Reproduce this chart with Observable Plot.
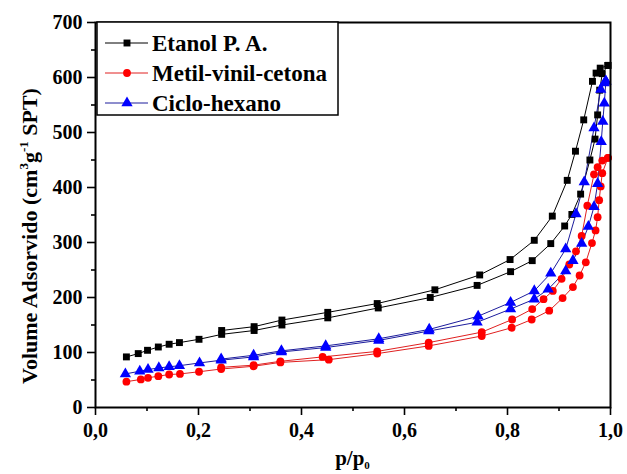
<!DOCTYPE html>
<html>
<head>
<meta charset="utf-8">
<script src="https://cdn.jsdelivr.net/npm/d3@7"></script>
<script src="https://cdn.jsdelivr.net/npm/@observablehq/plot@0.6"></script>
<style>
  html, body { margin: 0; padding: 0; background: white; }
  #chart { width: 627px; height: 474px; }
</style>
</head>
<body>
<div id="chart"></div>
<script>
// ---- data ----
const seriesNames = ["Etanol P. A.", "Metil-vinil-cetona", "Ciclo-hexano"];

const etanolAdsP = [0.060,0.083,0.101,0.122,0.143,0.163,0.201,0.245,0.308,0.362,0.451,0.549,0.650,0.741,0.806,0.848,0.884,0.911,0.925,0.942,0.960,0.970,0.975,0.979,0.984,0.995];
const etanolAdsV = [92,98,104,110,115,118,124,133,140,150,163,181,200,222,247,267,298,330,351,388,450,488,532,577,607,622];
const etanolDesP = [0.995,0.980,0.972,0.965,0.948,0.932,0.916,0.887,0.852,0.805,0.746,0.659,0.547,0.451,0.362,0.308,0.245];
const etanolDesV = [622,617,608,593,523,466,413,348,304,269,241,214,189,173,159,147,140];

const metilAdsP = [0.060,0.088,0.102,0.122,0.143,0.164,0.201,0.244,0.307,0.359,0.453,0.547,0.647,0.750,0.808,0.847,0.881,0.907,0.927,0.940,0.952,0.964,0.971,0.975,0.978,0.981,0.984,0.995];
const metilAdsV = [47,51,54,57,60,61,65,70,75,82,87,98,112,130,145,160,176,199,219,240,264,299,322,346,377,402,426,454];
const metilDesP = [0.995,0.984,0.975,0.968,0.955,0.944,0.933,0.920,0.905,0.888,0.870,0.848,0.809,0.750,0.647,0.547,0.441,0.359,0.307,0.244];
const metilDesV = [454,449,437,424,367,312,284,260,234,212,197,179,160,137,118,102,92,84,77,73];

const cicloAdsP = [0.058,0.086,0.102,0.123,0.143,0.163,0.202,0.244,0.307,0.361,0.447,0.550,0.647,0.741,0.806,0.852,0.879,0.913,0.927,0.944,0.957,0.968,0.975,0.982,0.985,0.988,0.991];
const cicloAdsV = [61,66,69,72,74,76,81,86,92,101,109,122,139,155,179,197,215,248,267,298,329,365,407,483,520,553,593];
const cicloDesP = [0.991,0.988,0.981,0.968,0.949,0.933,0.913,0.884,0.852,0.806,0.743,0.648,0.550,0.447,0.361,0.307,0.244];
const cicloDesV = [593,590,578,508,410,352,288,244,212,191,166,142,125,112,103,95,88];

const yTicks = [0,100,200,300,400,500,600,700];
const yMinor = [50,150,250,350,450,550,650];
const xTicks = [0,0.2,0.4,0.6,0.8,1.0];
const xMinor = [0.1,0.3,0.5,0.7,0.9];

// ---- styles ----
const lineColor = {"Etanol P. A.": "#000000", "Metil-vinil-cetona": "#e02020", "Ciclo-hexano": "#1c1c9c"};
const dotColor  = {"Etanol P. A.": "#000000", "Metil-vinil-cetona": "#ff0000", "Ciclo-hexano": "#0000ff"};
const symbolOf  = {"Etanol P. A.": "square", "Metil-vinil-cetona": "circle", "Ciclo-hexano": "triangle"};
const sizeOf    = {"Etanol P. A.": 3.9, "Metil-vinil-cetona": 3.9, "Ciclo-hexano": 4.2};

function rowsOf(name, branch, P, V) {
  return P.map((p, i) => ({name, branch, key: name + "|" + branch, p, v: V[i]}));
}
const rows = [
  ...rowsOf(seriesNames[0], "ads", etanolAdsP, etanolAdsV),
  ...rowsOf(seriesNames[0], "des", etanolDesP, etanolDesV),
  ...rowsOf(seriesNames[1], "ads", metilAdsP, metilAdsV),
  ...rowsOf(seriesNames[1], "des", metilDesP, metilDesV),
  ...rowsOf(seriesNames[2], "ads", cicloAdsP, cicloAdsV),
  ...rowsOf(seriesNames[2], "des", cicloDesP, cicloDesV)
];

const W = 627, H = 474;
const mL = 95, mR = 17, mT = 22, mB = 67;
const font = "'Liberation Serif', 'Times New Roman', serif";

const marks = [
  Plot.axisY({ticks: yTicks, tickSize: 8, tickPadding: 5, tickFormat: d => String(d), label: null, fontSize: 20, fontWeight: "bold", strokeWidth: 1.6}),
  Plot.axisY({ticks: yMinor, tickSize: 4, text: null, label: null, strokeWidth: 1.6}),
  Plot.axisX({ticks: xTicks, tickSize: 8, tickPadding: 7, tickFormat: d => d.toFixed(1).replace(".", ","), label: null, fontSize: 20, fontWeight: "bold", strokeWidth: 1.6}),
  Plot.axisX({ticks: xMinor, tickSize: 4, text: null, label: null, strokeWidth: 1.6})
];
for (const name of seriesNames) {
  const data = rows.filter(d => d.name === name);
  marks.push(Plot.line(data, {x: "p", y: "v", z: "key", stroke: lineColor[name], strokeWidth: 1}));
}
for (const name of seriesNames) {
  const data = rows.filter(d => d.name === name);
  marks.push(Plot.dot(data, {x: "p", y: "v", symbol: symbolOf[name], fill: dotColor[name], r: sizeOf[name], stroke: "none"}));
}
marks.push(Plot.frame({stroke: "black", strokeWidth: 2}));

const chart = Plot.plot({
  width: W, height: H,
  marginLeft: mL, marginRight: mR, marginTop: mT, marginBottom: mB,
  x: {domain: [0, 1]},
  y: {domain: [0, 700]},
  style: {fontFamily: font, color: "black", background: "white", overflow: "visible"},
  marks
});

const svg = d3.select(chart);

// axis titles
const plotCx = (mL + (W - mR)) / 2;
const xt = svg.append("text")
  .attr("x", plotCx).attr("y", 465)
  .attr("text-anchor", "middle")
  .attr("font-family", font).attr("font-weight", "bold").attr("font-size", 21).attr("fill", "black");
xt.append("tspan").text("p/p");
xt.append("tspan").attr("font-size", 11).attr("dy", 4).text("0");

const yt = svg.append("text")
  .attr("transform", `translate(37,236) rotate(-90)`)
  .attr("text-anchor", "middle")
  .attr("font-family", font).attr("font-weight", "bold").attr("font-size", 22).attr("fill", "black");
yt.append("tspan").text("Volume Adsorvido (cm");
yt.append("tspan").attr("font-size", 13).attr("dy", -9).text("3");
yt.append("tspan").attr("dy", 9).text("g");
yt.append("tspan").attr("font-size", 13).attr("dy", -9).text("-1");
yt.append("tspan").attr("dy", 9).text(" SPT)");

// legend
const lg = svg.append("g").attr("text-anchor", "start");
const lx = 97, ly = mT, lw = 241, lh = 93;
lg.append("rect").attr("x", lx).attr("y", ly).attr("width", lw).attr("height", lh)
  .attr("fill", "white").attr("stroke", "black").attr("stroke-width", 1.5);
const sym = {square: d3.symbolSquare, circle: d3.symbolCircle, triangle: d3.symbolTriangle};
seriesNames.forEach((name, i) => {
  const cy = ly + 21 + i * 30;
  lg.append("line").attr("x1", lx + 8).attr("x2", lx + 51).attr("y1", cy).attr("y2", cy)
    .attr("stroke", lineColor[name]).attr("stroke-width", 1);
  const r = sizeOf[name];
  lg.append("path").attr("transform", `translate(${lx + 30},${cy})`)
    .attr("d", d3.symbol(sym[symbolOf[name]], Math.PI * r * r)())
    .attr("fill", dotColor[name]);
  lg.append("text").attr("x", lx + 55).attr("y", cy).attr("dy", "0.35em")
    .attr("text-anchor", "start")
    .attr("font-family", font).attr("font-weight", "bold").attr("font-size", 23).attr("fill", "black")
    .text(name);
});

document.getElementById("chart").appendChild(chart);
</script>
</body>
</html>
